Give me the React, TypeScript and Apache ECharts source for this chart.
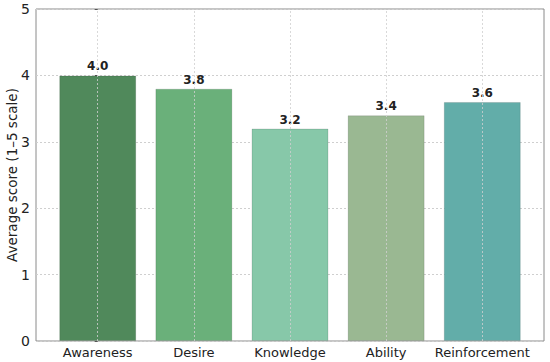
import React, { useEffect, useRef } from "react";
import * as echarts from "echarts";

const categories = ["Awareness", "Desire", "Knowledge", "Ability", "Reinforcement"];
const scores = [4.0, 3.8, 3.2, 3.4, 3.6];
const barColors = ["#50895b", "#6ab07a", "#87c8a9", "#9ab892", "#62ada9"];
const yTicks = [0, 1, 2, 3, 4, 5];

export default function App() {
  const ref = useRef<HTMLDivElement>(null);
  useEffect(() => {
    if (!ref.current) return;
    const chart = echarts.init(ref.current, null, { renderer: "svg" });
    const font = "DejaVu Sans";
    chart.setOption({
      animation: false,
      textStyle: { fontFamily: font },
      grid: {
        left: 36,
        right: 6,
        top: 9,
        bottom: 21,
        containLabel: false,
        outerBoundsMode: "none",
        show: true,
        borderColor: "#8a8a8a",
        borderWidth: 1,
        backgroundColor: "#fff",
      },
      xAxis: {
        type: "value",
        position: "bottom",
        min: -0.642,
        max: 4.642,
        axisLine: { show: false },
        splitLine: { show: false },
        axisTick: { show: false },
        axisLabel: {
          customValues: categories.map((_, i) => i),
          formatter: (v: number) => categories[Math.round(v)] ?? "",
          color: "#222",
          fontSize: 13,
          fontFamily: font,
          margin: 5,
        },
      },
      yAxis: {
        type: "value",
        min: yTicks[0],
        max: yTicks[yTicks.length - 1],
        interval: 1,
        name: "Average score (1–5 scale)",
        nameLocation: "middle",
        nameGap: 17,
        nameMoveOverlap: false,
        nameTextStyle: { color: "#222", fontSize: 13.5, fontFamily: font },
        axisLine: { show: false },
        axisTick: { show: true, length: 3, lineStyle: { color: "#555" } },
        axisLabel: { color: "#222", fontSize: 14, fontFamily: font, margin: 6 },
        splitLine: { show: true, lineStyle: { color: "#cfcfcf", type: [2, 2], width: 1 } },
      },
      series: [
        {
          type: "bar",
          barWidth: 77,
          data: scores.map((v, i) => ({
            value: [i, v],
            itemStyle: { color: barColors[i], borderColor: "rgba(0,0,0,0.12)", borderWidth: 1 },
          })),
          label: {
            show: true,
            position: "top",
            distance: 3,
            formatter: (p: any) => Number(p.value[1]).toFixed(1),
            color: "#222",
            fontSize: 12,
            fontWeight: "bold",
            fontFamily: font,
          },
          markLine: {
            silent: true,
            symbol: "none",
            label: { show: false },
            lineStyle: { color: "#cfcfcf", type: [2, 2], width: 1, opacity: 0.8 },
            data: categories.map((_, i) => ({ xAxis: i })),
          },
        },
      ],
    });
    return () => chart.dispose();
  }, []);
  return <div ref={ref} style={{ width: 550, height: 362, position: "absolute", left: 0, top: 0 }} />;
}
